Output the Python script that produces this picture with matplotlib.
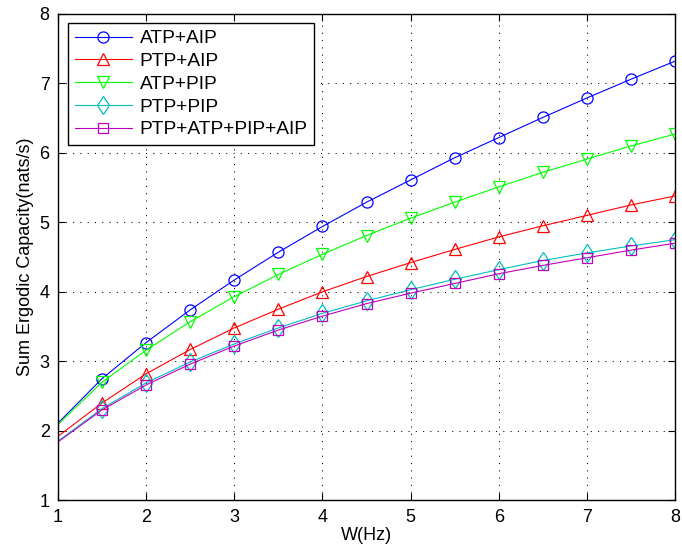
import numpy as np
import matplotlib.pyplot as plt

plt.rcParams['font.family'] = ['Liberation Sans', 'DejaVu Sans']

W = [1.0, 1.5, 2.0, 2.5, 3.0, 3.5, 4.0, 4.5, 5.0, 5.5, 6.0, 6.5, 7.0, 7.5, 8.0]

atp_aip = [2.11, 2.75, 3.27, 3.74, 4.17, 4.57, 4.94, 5.29, 5.61, 5.93, 6.22, 6.51, 6.79, 7.06, 7.32]
ptp_aip = [1.92, 2.40, 2.82, 3.17, 3.48, 3.75, 4.00, 4.22, 4.42, 4.61, 4.79, 4.95, 5.10, 5.25, 5.38]
atp_pip = [2.09, 2.70, 3.16, 3.57, 3.93, 4.25, 4.54, 4.81, 5.06, 5.29, 5.51, 5.72, 5.91, 6.10, 6.27]
ptp_pip = [1.85, 2.32, 2.69, 2.99, 3.25, 3.48, 3.69, 3.87, 4.03, 4.18, 4.32, 4.45, 4.56, 4.66, 4.75]
all_four = [1.84, 2.30, 2.66, 2.96, 3.22, 3.45, 3.65, 3.83, 3.98, 4.12, 4.26, 4.38, 4.49, 4.60, 4.70]

series = [
    (atp_aip, 'b', 'o', 8, 'ATP+AIP'),
    (ptp_aip, 'r', '^', 8, 'PTP+AIP'),
    (atp_pip, '#00ff00', 'v', 8, 'ATP+PIP'),
    (ptp_pip, 'c', 'd', 9.5, 'PTP+PIP'),
    (all_four, 'm', 's', 7, 'PTP+ATP+PIP+AIP'),
]

fig = plt.figure(figsize=(6.82, 5.54), dpi=100)
ax = fig.add_axes([0.085, 0.097, 0.905, 0.878])

for vals, col, mk, ms, lab in series:
    ax.plot(W, vals, color=col, marker=mk, markersize=ms, markerfacecolor='none',
            markeredgecolor=col, linewidth=0.8, markeredgewidth=0.9,
            markevery=slice(1, None), label=lab)

ax.set_xlim(1, 8)
ax.set_ylim(1, 8)
ax.set_xticks(range(1, 9))
ax.set_yticks(range(1, 9))
ax.grid(True, color='black', linestyle=(0, (1, 6)), linewidth=0.75)
ax.tick_params(direction='in', top=True, right=True, labelsize=13, length=5, pad=6)
for s in ax.spines.values():
    s.set_linewidth(1.0)

ax.set_xlabel('W(Hz)', fontsize=13, labelpad=1)
ax.set_ylabel('Sum Ergodic Capacity(nats/s)', fontsize=13, labelpad=4)

leg = ax.legend(loc='upper left', fontsize=13.8, fancybox=False, framealpha=1,
                edgecolor='black', handlelength=3.0, borderpad=0.35,
                labelspacing=0.28, handletextpad=0.4, borderaxespad=0,
                bbox_to_anchor=(0.016, 0.981))
leg.get_frame().set_linewidth(1.0)

fig.savefig('out.png', dpi=100)
